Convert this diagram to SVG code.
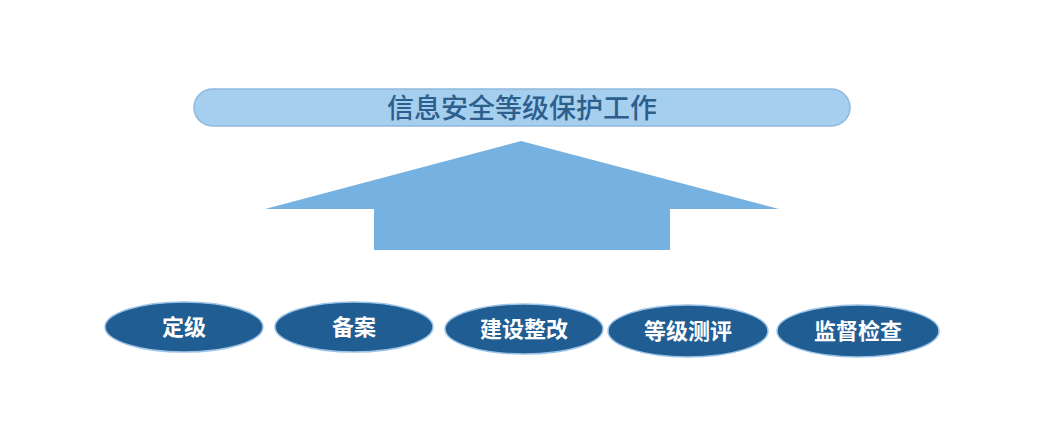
<svg xmlns="http://www.w3.org/2000/svg" width="1064" height="429" viewBox="0 0 1064 429">
<style>
.step{fill:#1f5d92;stroke:#9cc3e6;stroke-width:1.5}
.stxt{font-family:"Noto Sans CJK SC","Noto Sans CJK JP",sans-serif;font-size:22px;font-weight:bold;fill:#ffffff;text-anchor:middle;dominant-baseline:central}
.ttxt{font-family:"Noto Sans CJK SC","Noto Sans CJK JP",sans-serif;font-size:27px;font-weight:500;fill:#2c5f8c;text-anchor:middle;dominant-baseline:central}
</style>
<rect width="1064" height="429" fill="#ffffff"/>
<g id="title">
<rect x="194" y="89" width="656" height="37" rx="18.5" fill="#a6ceef" stroke="#8fb8dc" stroke-width="1.5"/>
<text class="ttxt" x="522" y="106">信息安全等级保护工作</text>
</g>
<g id="arrow">
<polygon points="521,141 779,209 670,209 670,250 374,250 374,209 265,209" fill="#76b2e1"/>
</g>
<g id="n1">
<ellipse class="step" cx="184" cy="327" rx="79" ry="25"/>
<text class="stxt" x="184" y="325">定级</text>
</g>
<g id="n2">
<ellipse class="step" cx="354" cy="327" rx="79" ry="25"/>
<text class="stxt" x="354" y="325">备案</text>
</g>
<g id="n3">
<ellipse class="step" cx="524" cy="329" rx="79" ry="25"/>
<text class="stxt" x="524" y="327">建设整改</text>
</g>
<g id="n4">
<ellipse class="step" cx="688" cy="331" rx="80" ry="26"/>
<text class="stxt" x="688" y="329">等级测评</text>
</g>
<g id="n5">
<ellipse class="step" cx="858" cy="331" rx="81" ry="26"/>
<text class="stxt" x="858" y="329">监督检查</text>
</g>
</svg>
